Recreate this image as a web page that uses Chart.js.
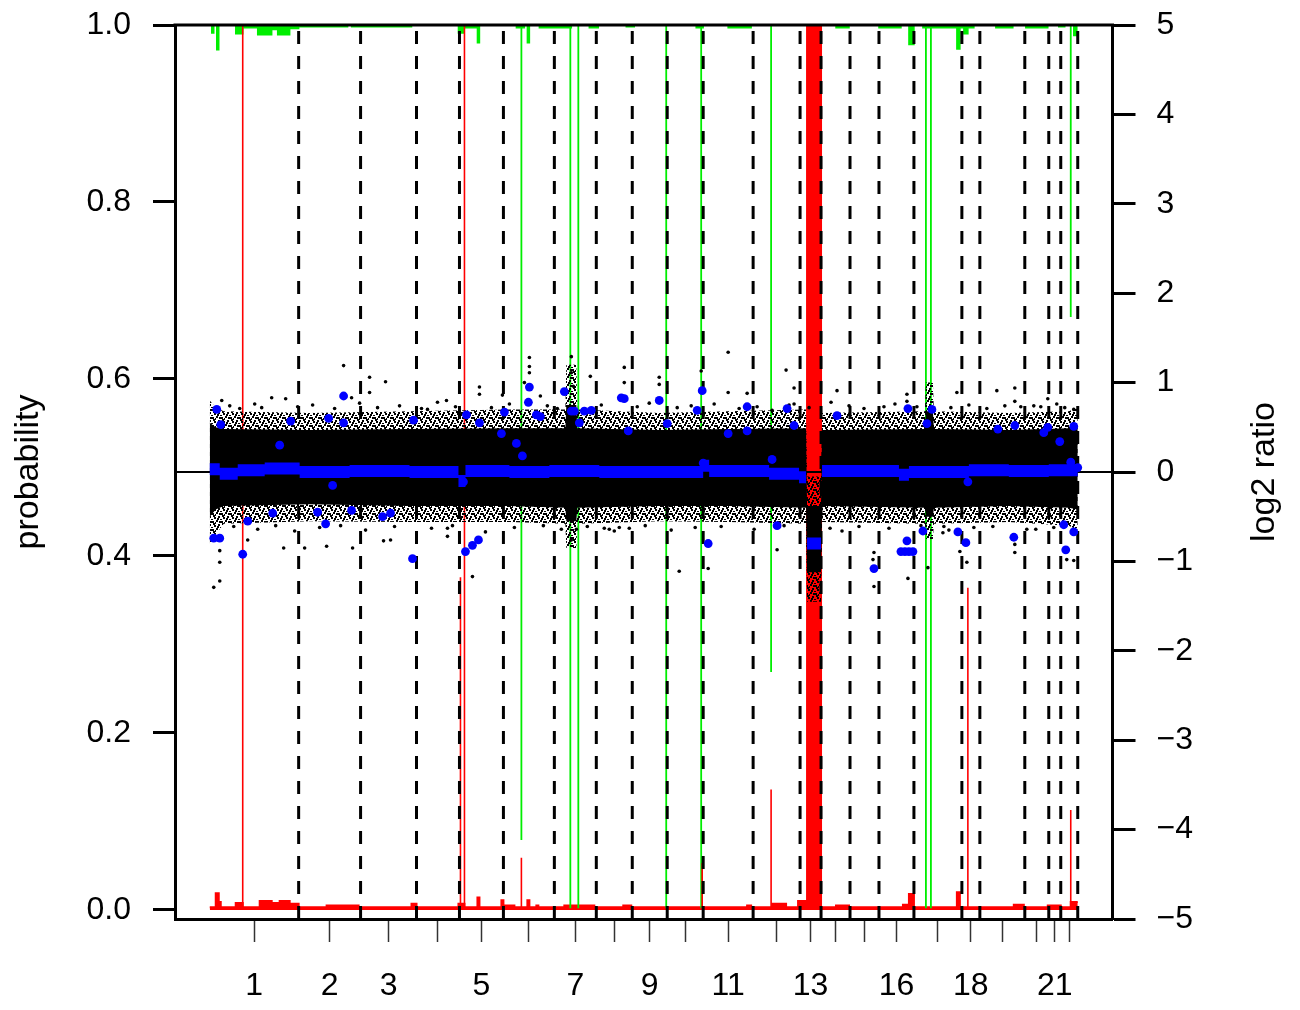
<!DOCTYPE html>
<html>
<head>
<meta charset="utf-8">
<script src="https://cdn.jsdelivr.net/npm/chart.js@4.4.1/dist/chart.umd.min.js"></script>
<style>
  html, body { margin: 0; padding: 0; background: #fff; }
</style>
</head>
<body>
<canvas id="cnv" width="1300" height="1010"></canvas>
<script>
// ==========================================
// 1. DATA (x = probe position along the genome)
// ==========================================
var chromNames = ['1','2','3','4','5','6','7','8','9','10','11','12','13','14','15','16','17','18','19','20','21','22'];
var chromEnds = [89, 151, 207, 250, 294, 345, 387, 423, 458, 494, 544, 591, 612, 641, 670, 705, 753, 771, 816, 840, 852, 869];
var shownLabels = ['1','2','3','5','7','9','11','13','16','18','21'];
var xRange = [-34.8, 903.8];

var probTicks = [0, 0.2, 0.4, 0.6, 0.8, 1.0];
var ratioTicks = [-5, -4, -3, -2, -1, 0, 1, 2, 3, 4, 5];

// envelope of the dense log2 ratio cloud
var bandX    = [0, 6, 14, 100, 200, 300, 356, 357, 367, 368, 450, 520, 597, 598, 612, 613, 716, 717, 724, 725, 800, 860, 869];
var fringeHi = [0.80, 0.72, 0.68, 0.66, 0.68, 0.70, 0.70, 1.20, 1.20, 0.70, 0.66, 0.68, 0.70, -0.05, -0.05, 0.66, 0.68, 1.00, 1.00, 0.68, 0.66, 0.68, 0.72];
var coreHi   = [0.55, 0.50, 0.48, 0.47, 0.48, 0.49, 0.49, 0.75, 0.75, 0.49, 0.47, 0.48, 0.49, -0.38, -0.38, 0.47, 0.48, 0.68, 0.68, 0.48, 0.47, 0.49, 0.50];
var coreLo   = [-0.50, -0.42, -0.38, -0.36, -0.38, -0.38, -0.40, -0.55, -0.55, -0.40, -0.38, -0.38, -0.40, -1.12, -1.12, -0.38, -0.40, -0.50, -0.50, -0.40, -0.38, -0.40, -0.42];
var fringeLo = [-0.80, -0.70, -0.58, -0.55, -0.56, -0.56, -0.58, -0.85, -0.85, -0.58, -0.55, -0.56, -0.58, -1.45, -1.45, -0.56, -0.58, -0.75, -0.75, -0.58, -0.56, -0.60, -0.65];

// outlying probes (log2 ratio)
var blackX = [12, 4, 10, 10, 10, 38, 62, 76, 74, 95, 117, 134, 142, 143, 160, 160, 176, 174, 181, 218,
  237, 238, 238, 270, 270, 263, 293, 320, 320, 320, 315, 331, 362, 362, 364, 381, 405, 395, 362, 367,
  415, 415, 450, 450, 400, 410, 470, 492, 499, 519, 519, 538, 563, 568, 577, 585, 585, 622, 628, 621,
  665, 665, 675, 698, 698, 699, 734, 748, 751, 758, 788, 806, 806, 825, 832, 839, 806, 806, 858, 865,
  865, 719, 664, 827, 735,
  20, 30, 45, 52, 88, 103, 125, 150, 168, 190, 212, 228, 246, 282, 300, 338, 348, 392, 428, 440,
  468, 482, 505, 530, 548, 580, 600, 640, 655, 686, 708, 742, 760, 778, 796, 812, 848, 856,
  24, 48, 66, 85, 110, 131, 156, 185, 222, 243, 276, 305, 334, 352, 378, 420, 436, 462, 486, 512,
  545, 575, 606, 633, 650, 680, 712, 740, 765, 784, 818, 845];
var blackY = [0.80, -1.29, -1.22, -1.01, -0.88, -0.76, 0.83, 0.82, -0.85, -0.85, -0.83, 1.19, 0.83, -0.85, 1.06, 0.89, 1.01, -0.77, -0.76, 0.70,
  0.80, -0.63, -0.72, 0.95, 0.87, -1.17, 0.86, 1.28, 1.18, 1.11, 1.00, 0.85, 1.29, 1.11, 0.96, 1.07, -0.66, -0.63, -0.76, -0.64,
  1.17, 1.00, 1.06, 0.98, -0.64, -0.62, -1.11, 1.13, -1.08, 1.34, 0.89, 0.88, 0.69, -0.87, 1.14, 0.94, 0.76, 0.78, 0.91, -0.63,
  -1.28, -0.90, 0.73, 0.87, 0.79, -1.19, -0.68, 0.89, -0.89, -1.01, 0.91, 0.94, 0.79, 0.74, 0.73, 0.82, -0.90, -0.81, -0.98, -0.99,
  0.70, -1.07, -0.98, -0.64, -0.61,
  0.74, 0.71, 0.76, 0.72, 0.73, 0.75, 0.71, 0.77, 0.72, 0.74, 0.71, 0.78, 0.73, 0.72, 0.76, 0.74, 0.71, 0.75, 0.73, 0.77,
  0.72, 0.74, 0.76, 0.71, 0.73, 0.75, 0.72, 0.74, 0.71, 0.76, 0.73, 0.72, 0.75, 0.71, 0.74, 0.73, 0.76, 0.72,
  -0.61, -0.64, -0.60, -0.66, -0.62, -0.60, -0.65, -0.61, -0.63, -0.60, -0.67, -0.62, -0.60, -0.64, -0.61, -0.63, -0.60, -0.65, -0.62, -0.61,
  -0.64, -0.60, -0.62, -0.66, -0.61, -0.63, -0.60, -0.65, -0.62, -0.61, -0.64, -0.62];

// segment means (blue)
var blueX = [7, 11, 4, 10, 38, 33, 63, 70, 81, 108, 116, 119, 134, 134, 123, 142, 173, 181, 204, 203,
  257, 270, 256, 263, 269, 254, 295, 292, 307, 313, 320, 319, 327, 331, 355, 362, 365, 370, 375, 382,
  412, 415, 419, 450, 458, 493, 488, 494, 499, 519, 538, 538, 563, 568, 578, 585, 628, 665, 699, 698,
  692, 696, 700, 704, 714, 718, 723, 749, 757, 759, 789, 805, 806, 835, 839, 851, 855, 857, 865, 865,
  862, 869];
var blueY = [0.70, 0.53, -0.74, -0.74, -0.55, -0.92, -0.46, 0.30, 0.57, -0.45, -0.58, 0.60, 0.85, 0.55, -0.15, -0.43, -0.50, -0.46, 0.58, -0.97,
  0.64, 0.55, -0.89, -0.82, -0.76, -0.11, 0.67, 0.43, 0.32, 0.18, 0.95, 0.78, 0.64, 0.62, 0.90, 0.68, 0.68, 0.55, 0.68, 0.69,
  0.83, 0.82, 0.46, 0.80, 0.54, 0.91, 0.69, 0.10, -0.80, 0.43, 0.73, 0.46, 0.14, -0.60, 0.71, 0.52, 0.63, -1.08, 0.71, -0.77,
  -0.89, -0.89, -0.89, -0.89, -0.66, 0.54, 0.70, -0.67, -0.79, -0.11, 0.48, -0.73, 0.52, 0.44, 0.50, 0.34, -0.59, -0.87, 0.51, -0.67,
  0.11, 0.05];
var segStart = [0, 10, 28, 55, 90, 140, 200, 249, 256, 300, 340, 390, 494, 500, 560, 590, 598, 613, 690, 700, 760, 800, 840];
var segEnd   = [10, 28, 55, 90, 140, 200, 249, 256, 300, 340, 390, 494, 500, 560, 590, 597, 612, 690, 700, 760, 800, 840, 869];
var segVal   = [0.03, -0.02, 0.02, 0.04, 0.0, 0.01, 0.0, -0.10, 0.01, 0.0, 0.01, 0.0, 0.07, 0.01, -0.02, -0.06, -0.80, 0.01, -0.03, 0.0, 0.02, 0.01, 0.02];

// probability of loss (red, from bottom) and gain (green, from top)
var lossStepX = [0, 6, 9, 11, 26, 33, 50, 62, 70, 80, 89, 117, 149, 202, 207, 249, 255, 268, 270, 292,
  294, 305, 318, 320, 327, 329, 355, 385, 414, 422, 538, 542, 563, 577, 589, 598, 612, 627, 640, 694,
  700, 705, 748, 751, 805, 815, 839, 852, 862, 869];
var lossStepP = [0.003, 0.019, 0.009, 0.003, 0.008, 0.003, 0.010, 0.008, 0.010, 0.007, 0.003, 0.005, 0.003, 0.007, 0.003, 0.007, 0.003, 0.014, 0.003, 0.011,
  0.005, 0.003, 0.011, 0.003, 0.005, 0.003, 0.005, 0.003, 0.005, 0.003, 0.005, 0.003, 0.007, 0.003, 0.010, 1.0, 0.003, 0.005, 0.003, 0.006,
  0.018, 0.003, 0.020, 0.003, 0.006, 0.003, 0.005, 0.003, 0.009, 0.009];
var gainStepX = [0, 2, 4, 7, 9, 26, 33, 48, 62, 68, 80, 89, 138, 142, 202, 249, 254, 268, 270, 307,
  315, 318, 320, 330, 362, 380, 389, 417, 425, 487, 494, 519, 542, 627, 640, 670, 692, 700, 705, 714,
  748, 751, 755, 759, 765, 787, 804, 817, 839, 850, 856, 865, 869];
var gainStepP = [0, 0.009, 0, 0.028, 0, 0.010, 0.003, 0.011, 0.005, 0.011, 0.004, 0.002, 0, 0.002, 0, 0.009, 0.003, 0.020, 0, 0.003,
  0, 0.020, 0, 0.003, 0, 0.003, 0, 0.002, 0, 0.003, 0, 0.003, 0, 0.003, 0, 0.003, 0, 0.022, 0, 0.003,
  0.027, 0.003, 0.010, 0.003, 0, 0.003, 0, 0.003, 0, 0.002, 0, 0.012, 0.012];
var lossSpikeX = [33, 251, 255, 312, 493, 562, 759, 862];
var lossSpikeP = [1.0, 0.376, 1.0, 0.059, 0.053, 0.136, 0.364, 0.113];
var gainSpikeX = [312, 361, 369, 457, 492, 562, 717, 722, 862];
var gainSpikeP = [0.921, 0.998, 0.998, 0.998, 0.998, 0.731, 0.998, 0.998, 0.330];

// ==========================================
// 2. BUILD SERIES
// ==========================================
var FONT = '"Liberation Sans", Arial, Helvetica, sans-serif';
Chart.defaults.font.family = FONT;
Chart.defaults.color = '#000';

function pts(xs, ys) {
    return xs.map(function (x, i) { return { x: x, y: ys[i] }; });
}

// stipple fill for the sparse edge of the probe cloud
function stipple() {
    var t = document.createElement('canvas');
    t.width = 9; t.height = 8;
    var g = t.getContext('2d');
    g.fillStyle = '#000';
    [[0, 0], [5, 1], [2, 4], [7, 5], [4, 7], [8, 2], [3, 1], [6, 3], [1, 6]].forEach(function (p) { g.fillRect(p[0], p[1], 2, 2); });
    return g.createPattern(t, 'repeat');
}

var chromMid = chromEnds.map(function (e, i) {
    var s = i === 0 ? 0 : chromEnds[i - 1];
    return (s + e) / 2;
});

var dashPts = [];
chromEnds.forEach(function (b) {
    dashPts.push({ x: b, y: -5 }, { x: b, y: 5 }, { x: b, y: null });
});

var segPts = [];
segStart.forEach(function (s, i) {
    segPts.push({ x: s, y: segVal[i] }, { x: segEnd[i], y: segVal[i] }, { x: segEnd[i], y: null });
});

var lossSpikePts = [];
lossSpikeX.forEach(function (x, i) {
    lossSpikePts.push({ x: x, y: 0 }, { x: x, y: lossSpikeP[i] }, { x: x, y: null });
});
var gainSpikePts = [];
gainSpikeX.forEach(function (x, i) {
    gainSpikePts.push({ x: x, y: 1 }, { x: x, y: 1 - gainSpikeP[i] }, { x: x, y: null });
});
var gainStepPts = gainStepX.map(function (x, i) { return { x: x, y: 1 - gainStepP[i] }; });

function lineSet(data, axis, extra) {
    var d = {
        type: 'line', data: data, yAxisID: axis,
        pointRadius: 0, borderWidth: 0, fill: false, tension: 0, spanGaps: false
    };
    for (var k in extra) d[k] = extra[k];
    return d;
}

// first dataset is drawn on top
var datasets = [
    lineSet(pts(blueX, blueY), 'y2', { showLine: false, pointRadius: 4.4, pointBackgroundColor: '#0000ff', pointBorderWidth: 0 }),
    lineSet(segPts, 'y2', { borderColor: '#0000ff', borderWidth: 12, borderCapStyle: 'butt' }),
    lineSet(pts(blackX, blackY), 'y2', { showLine: false, pointRadius: 1.8, pointBackgroundColor: '#000', pointBorderWidth: 0 }),
    lineSet(pts(bandX, coreHi), 'y2', { fill: '+1', backgroundColor: '#000' }),
    lineSet(pts(bandX, coreLo), 'y2', {}),
    lineSet(pts(bandX, fringeHi), 'y2', { fill: '+1', backgroundColor: stipple() }),
    lineSet(pts(bandX, fringeLo), 'y2', {}),
    lineSet([{ x: xRange[0], y: 0 }, { x: xRange[1], y: 0 }], 'y2', { borderColor: '#000', borderWidth: 2 }),
    lineSet(dashPts, 'y2', { borderColor: '#000', borderWidth: 3, borderDash: [13, 12], borderCapStyle: 'butt' }),
    lineSet(lossSpikePts, 'y', { borderColor: '#ff0000', borderWidth: 1.6 }),
    lineSet(gainSpikePts, 'y', { borderColor: '#00ee00', borderWidth: 1.8 }),
    lineSet(pts(lossStepX, lossStepP), 'y', { stepped: true, fill: 'origin', borderColor: '#ff0000', backgroundColor: '#ff0000', borderWidth: 2 }),
    lineSet(gainStepPts, 'y', { stepped: true, fill: 'end', borderColor: '#00ee00', backgroundColor: '#00ee00', borderWidth: 1.5 })
];

// frame top edge and right-hand title
var framePlugin = {
    id: 'frame',
    afterDraw: function (chart) {
        var a = chart.chartArea, c = chart.ctx;
        c.save();
        c.strokeStyle = '#000';
        c.lineWidth = 3;
        c.beginPath();
        c.moveTo(a.left - 1.5, a.top);
        c.lineTo(a.right + 1.5, a.top);
        c.stroke();
        c.translate(a.right + 152, (a.top + a.bottom) / 2);
        c.rotate(-Math.PI / 2);
        c.font = '34px ' + FONT;
        c.fillStyle = '#000';
        c.textAlign = 'center';
        c.textBaseline = 'middle';
        c.fillText('log2 ratio', 0, 0);
        c.restore();
    }
};

function fitY(w) {
    return function (s) { s.width = w; s.paddingTop = 0; s.paddingBottom = 0; };
}

// ==========================================
// 3. CHART
// ==========================================
new Chart(document.getElementById('cnv'), {
    type: 'line',
    data: { datasets: datasets },
    plugins: [framePlugin],
    options: {
        responsive: false,
        animation: false,
        events: [],
        layout: { padding: { top: 25, left: 0, right: 0, bottom: 0 } },
        plugins: { legend: { display: false }, tooltip: { enabled: false } },
        scales: {
            x: {
                type: 'linear', min: xRange[0], max: xRange[1], offset: false,
                afterBuildTicks: function (s) { s.ticks = chromMid.map(function (v) { return { value: v }; }); },
                afterFit: function (s) { s.height = 91; s.paddingLeft = 0; s.paddingRight = 0; },
                ticks: {
                    autoSkip: false, maxRotation: 0, minRotation: 0, padding: 25,
                    font: { size: 32 }, color: '#000',
                    callback: function (v, i) { return shownLabels.indexOf(chromNames[i]) >= 0 ? chromNames[i] : ''; }
                },
                grid: { drawOnChartArea: false, drawTicks: true, tickLength: 23, tickWidth: 1.5, tickColor: '#333', offset: false },
                border: { display: true, color: '#000', width: 3 }
            },
            y: {
                position: 'left', min: -0.0102, max: 1,
                afterBuildTicks: function (s) { s.ticks = probTicks.map(function (v) { return { value: v }; }); },
                afterFit: fitY(175),
                ticks: { padding: 22, font: { size: 32 }, color: '#000',
                    callback: function (v) { return v.toFixed(1); } },
                grid: { drawOnChartArea: false, drawTicks: true, tickLength: 22, tickWidth: 3, tickColor: '#000' },
                border: { display: true, color: '#000', width: 3 },
                title: { display: true, text: 'probability', font: { size: 34 }, color: '#000', padding: { top: 8, bottom: 0 } }
            },
            y2: {
                position: 'right', min: -5, max: 5,
                afterBuildTicks: function (s) { s.ticks = ratioTicks.map(function (v) { return { value: v }; }); },
                afterFit: fitY(187.5),
                ticks: { padding: 21, font: { size: 32 }, color: '#000',
                    callback: function (v) { return v < 0 ? '\u2212' + Math.abs(v) : String(v); } },
                grid: { drawOnChartArea: false, drawTicks: true, tickLength: 23, tickWidth: 3, tickColor: '#000' },
                border: { display: true, color: '#000', width: 3 }
            }
        }
    }
});
</script>
</body>
</html>
